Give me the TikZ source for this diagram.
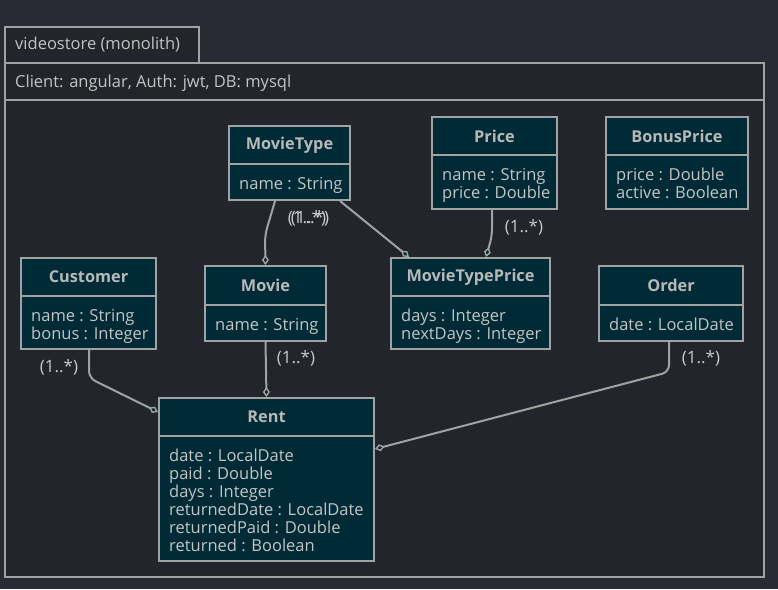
\documentclass[tikz,border=0pt]{standalone}
\usepackage{fontspec}
\setmainfont{Open Sans}
\usetikzlibrary{arrows.meta,calc,fit}
\definecolor{outbg}{HTML}{282B33}
\definecolor{inbg}{HTML}{22252C}
\definecolor{boxfill}{HTML}{002B36}
\definecolor{linecol}{HTML}{A2A2A2}
\definecolor{txtcol}{HTML}{C4C4C4}
\definecolor{titlecol}{HTML}{B8B8B8}
\tikzset{
  frameline/.style={draw=linecol, line width=2pt},
  classbox/.style={draw=linecol, line width=2pt, fill=boxfill, inner sep=0pt},
  divline/.style={draw=linecol, line width=2pt},
  titletext/.style={text=titlecol, font=\fontsize{16.3}{18}\selectfont\bfseries, inner sep=0pt},
  attrtext/.style={text=txtcol, font=\fontsize{16.5}{18}\selectfont, align=left, inner sep=0pt, anchor=north west},
  plaintext/.style={text=txtcol, font=\fontsize{16.5}{18}\selectfont, inner sep=0pt, anchor=west},
  multtext/.style={text=txtcol!90, font=\fontsize{17}{18}\selectfont, inner sep=0pt},
  assoc/.style={draw=linecol, line width=2pt, rounded corners=7pt, -{Diamond[fill=boxfill, length=10pt, width=7pt, line width=1.4pt]}},
}
\newcommand{\umlclass}[8]{%
  \node[classbox, fit={(#2,#3) (#4,#5)}] (#1) {};
  \draw[divline] (#2,#6) -- (#4,#6);
  \node[titletext] (#1-title) at ({(#2+#4)/2},{(#3+#6)/2}) {#7};
  \node[attrtext] (#1-attrs) at (#2+10,#6+13) {#8};
}
\begin{document}
\begin{tikzpicture}[x=1pt,y=-1pt]
\useasboundingbox[fill=outbg] (0,0) rectangle (778,589);
% frame
\node[frameline, fill=inbg, inner sep=0pt, fit={(5,27) (199,63)}] (tab) {};
\node[frameline, fill=inbg, inner sep=0pt, fit={(5,63) (764,577)}] (frame) {};
\draw[frameline] (5,100) -- (764,100);
\node[plaintext] (tabtext) at (15,45) {videostore (monolith)};
\node[plaintext] (info) at (15,83) {Client: angular, Auth: jwt, DB: mysql};
% classes
\umlclass{MovieType}{229}{126}{350}{200}{164}{MovieType}{name : String}
\umlclass{Price}{432}{117}{557}{209}{155}{Price}{name : String\\price : Double}
\umlclass{BonusPrice}{606}{117}{748}{209}{155}{BonusPrice}{price : Double\\active : Boolean}
\umlclass{Customer}{21}{258}{156}{349}{296}{Customer}{name : String\\bonus : Integer}
\umlclass{Movie}{205}{266}{326}{341}{305}{Movie}{name : String}
\umlclass{MovieTypePrice}{391}{258}{550}{349}{296}{MovieTypePrice}{days : Integer\\nextDays : Integer}
\umlclass{Order}{599}{266}{743}{341}{305}{Order}{date : LocalDate}
\umlclass{Rent}{159}{398}{374}{561}{436}{Rent}{date : LocalDate\\paid : Double\\days : Integer\\returnedDate : LocalDate\\returnedPaid : Double\\returned : Boolean}
% connectors
\draw[assoc] ($(MovieType.south west)+(47,0)$) -- ++(-10,34) -- (Movie.north);
\draw[assoc] ($(MovieType.south west)+(112,0)$) -- ($(MovieTypePrice.north west)+(19,0)$);
\draw[assoc] ($(Price.south west)+(61,0)$) -- ++(0,26) -- ($(MovieTypePrice.north west)+(96,0)$);
\draw[assoc] ($(Customer.south west)+(69,0)$) -- ++(0,28) -- ($(Rent.north west)+(0,15)$);
\draw[assoc] (Movie.south) -- (Rent.north);
\draw[assoc] ($(Order.south west)+(71,0)$) -- ++(0,30) -- ($(Rent.north east)+(0,52)$);
% multiplicities
\node[multtext] (m1a) at (307,218) {(1..*)};
\node[multtext] (m1b) at (310,218) {(1..*)};
\node[multtext] (m2) at (524,227) {(1..*)};
\node[multtext] (m3) at (59,367) {(1..*)};
\node[multtext] (m4) at (296,358) {(1..*)};
\node[multtext] (m5) at (701,358) {(1..*)};
\end{tikzpicture}
\end{document}
